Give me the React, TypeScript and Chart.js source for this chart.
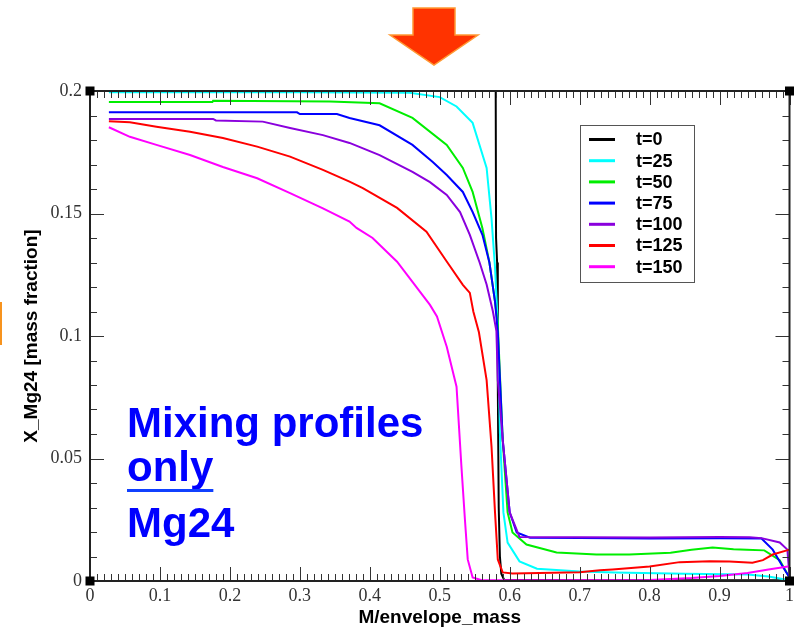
import React, { useEffect, useRef } from 'react';
import { Chart, registerables } from 'chart.js';

Chart.register(...registerables);

// Series (time snapshots of the Mg24 profile)
const seriesLabels = ['t=0', 't=25', 't=50', 't=75', 't=100', 't=125', 't=150'];
const seriesColors = ['#000000', '#00FFFF', '#00EE00', '#0000FF', '#8A00DD', '#FF0000', '#FF00FF'];

const t0X = [0.027, 0.58, 0.5805, 0.582, 0.583, 0.5843, 0.586, 0.588, 0.592, 0.7, 0.85, 1.0];
const t0Y = [0.2, 0.2, 0.14, 0.13, 0.08, 0.03, 0.01, 0.003, 0.0005, 0.0003, 0.0003, 0.0003];

const t25X = [0.027, 0.3, 0.457, 0.5, 0.524, 0.547, 0.567, 0.574, 0.579, 0.583, 0.586, 0.591, 0.597, 0.614, 0.639, 0.7, 0.75, 0.85, 0.94, 0.97, 0.99, 1.0];
const t25Y = [0.1995, 0.1995, 0.1993, 0.1975, 0.1937, 0.187, 0.1686, 0.148, 0.128, 0.1046, 0.0604, 0.028, 0.0157, 0.008, 0.005, 0.0039, 0.0035, 0.003, 0.0027, 0.0018, 0.0008, 0.0004];

const t50X = [0.027, 0.175, 0.176, 0.343, 0.414, 0.461, 0.51, 0.533, 0.547, 0.561, 0.571, 0.579, 0.583, 0.59, 0.597, 0.604, 0.624, 0.667, 0.724, 0.771, 0.83, 0.86, 0.89, 0.92, 0.939, 0.964, 0.986, 1.0];
const t50Y = [0.1955, 0.1955, 0.196, 0.1957, 0.195, 0.189, 0.178, 0.1686, 0.1588, 0.144, 0.13, 0.114, 0.1046, 0.0575, 0.028, 0.0198, 0.0149, 0.0116, 0.0108, 0.0108, 0.0115, 0.0128, 0.0137, 0.013, 0.0128, 0.0125, 0.0085, 0.0014];

const t75X = [0.027, 0.296, 0.3, 0.353, 0.371, 0.414, 0.461, 0.49, 0.51, 0.533, 0.547, 0.561, 0.571, 0.579, 0.583, 0.59, 0.6, 0.61, 0.629, 0.7, 0.8, 0.9, 0.96, 0.976, 0.99, 1.0];
const t75Y = [0.1913, 0.1913, 0.1906, 0.1906, 0.189, 0.186, 0.178, 0.171, 0.1657, 0.1588, 0.1506, 0.1413, 0.13, 0.114, 0.1017, 0.0577, 0.028, 0.0198, 0.0177, 0.0175, 0.0173, 0.0175, 0.0173, 0.0128, 0.006, 0.0014];

const t100X = [0.027, 0.176, 0.18, 0.247, 0.286, 0.333, 0.371, 0.414, 0.461, 0.486, 0.51, 0.529, 0.543, 0.557, 0.567, 0.576, 0.581, 0.583, 0.59, 0.6, 0.614, 0.7, 0.8, 0.9, 0.943, 0.96, 0.986, 0.997, 1.0];
const t100Y = [0.1886, 0.1886, 0.188, 0.1875, 0.1849, 0.182, 0.1788, 0.1738, 0.167, 0.1628, 0.1576, 0.1506, 0.1413, 0.13, 0.121, 0.11, 0.102, 0.082, 0.0577, 0.028, 0.018, 0.0179, 0.0178, 0.018, 0.0179, 0.0175, 0.0157, 0.0128, 0.0018];

const t125X = [0.027, 0.057, 0.095, 0.143, 0.19, 0.239, 0.286, 0.333, 0.371, 0.39, 0.439, 0.481, 0.51, 0.533, 0.543, 0.548, 0.556, 0.567, 0.574, 0.579, 0.583, 0.59, 0.604, 0.7, 0.729, 0.747, 0.8, 0.843, 0.886, 0.914, 0.947, 0.962, 0.976, 1.0];
const t125Y = [0.1877, 0.1872, 0.1854, 0.1834, 0.1808, 0.1773, 0.1732, 0.1678, 0.163, 0.1604, 0.1523, 0.1426, 0.1304, 0.1209, 0.1176, 0.11, 0.1015, 0.082, 0.0549, 0.028, 0.0088, 0.0035, 0.0031, 0.0036, 0.0044, 0.0047, 0.0059, 0.0077, 0.0081, 0.008, 0.0075, 0.0085, 0.0108, 0.0128];

const t150X = [0.027, 0.057, 0.095, 0.143, 0.19, 0.239, 0.286, 0.333, 0.371, 0.381, 0.404, 0.439, 0.461, 0.486, 0.496, 0.51, 0.524, 0.531, 0.536, 0.54, 0.547, 0.56, 0.8, 0.86, 0.9, 0.94, 0.97, 1.0];
const t150Y = [0.1852, 0.1813, 0.178, 0.1739, 0.169, 0.1644, 0.1583, 0.1521, 0.1467, 0.1441, 0.14, 0.1303, 0.1221, 0.1127, 0.108, 0.0956, 0.0793, 0.0467, 0.025, 0.0088, 0.0014, 0.0003, 0.0004, 0.0012, 0.002, 0.0033, 0.0047, 0.006];

const seriesX = [t0X, t25X, t50X, t75X, t100X, t125X, t150X];
const seriesY = [t0Y, t25Y, t50Y, t75Y, t100Y, t125Y, t150Y];

// Axis tick labels
const xTickLabels = ['0', '0.1', '0.2', '0.3', '0.4', '0.5', '0.6', '0.7', '0.8', '0.9', '1'];
const yTickLabels = ['0', '0.05', '0.1', '0.15', '0.2'];

const xTitle = 'M/envelope_mass';
const yTitle = 'X_Mg24 [mass fraction]';
const noteLines = ['Mixing profiles', 'only', 'Mg24'];

const SANS = "'Liberation Sans', Arial, Helvetica, sans-serif";
const SERIF = "'Liberation Serif', 'Times New Roman', serif";

// Inward ticks, frame, corner handles, boxed legend and the slide annotations
const decorPlugin = {
  id: 'decor',
  afterDraw(chart: any) {
    const ctx = chart.ctx as CanvasRenderingContext2D;
    const ca = chart.chartArea;
    const xs = chart.scales.x;
    const ys = chart.scales.y;
    ctx.save();

    // ticks
    ctx.strokeStyle = '#333';
    ctx.lineWidth = 1;
    ctx.beginPath();
    for (let i = 0; i <= 100; i++) {
      const v = i / 100;
      const px = Math.round(xs.getPixelForValue(v)) + 0.5;
      const len = i % 10 === 0 ? 14 : 7;
      ctx.moveTo(px, ca.bottom);
      ctx.lineTo(px, ca.bottom - len);
      ctx.moveTo(px, ca.top);
      ctx.lineTo(px, ca.top + len);
    }
    for (let i = 0; i <= 20; i++) {
      const v = i / 100;
      const py = Math.round(ys.getPixelForValue(v)) + 0.5;
      const len = i % 5 === 0 ? 14 : 7;
      ctx.moveTo(ca.left, py);
      ctx.lineTo(ca.left + len, py);
      ctx.moveTo(ca.right, py);
      ctx.lineTo(ca.right - len, py);
    }
    ctx.stroke();

    // frame
    ctx.strokeStyle = '#222';
    ctx.lineWidth = 2;
    ctx.strokeRect(ca.left, ca.top, ca.right - ca.left, ca.bottom - ca.top);

    // corner handles
    ctx.fillStyle = '#000';
    const s = 9;
    [[ca.left, ca.top], [ca.right, ca.top], [ca.left, ca.bottom], [ca.right, ca.bottom]].forEach(([cx, cy]) => {
      ctx.fillRect(cx - s / 2, cy - s / 2, s, s);
    });

    // legend box
    const lx = ca.left + 490;
    const ly = ca.top + 34;
    const lw = 114;
    const lh = 157;
    ctx.fillStyle = '#fff';
    ctx.fillRect(lx, ly, lw, lh);
    ctx.strokeStyle = '#555';
    ctx.lineWidth = 1;
    ctx.strokeRect(lx + 0.5, ly + 0.5, lw, lh);
    ctx.font = `bold 18px ${SANS}`;
    ctx.textBaseline = 'middle';
    ctx.textAlign = 'left';
    chart.data.datasets.forEach((ds: any, i: number) => {
      const ry = ly + 14.5 + i * 21.2;
      ctx.strokeStyle = ds.borderColor;
      ctx.lineWidth = 3;
      ctx.beginPath();
      ctx.moveTo(lx + 9, ry);
      ctx.lineTo(lx + 35, ry);
      ctx.stroke();
      ctx.fillStyle = '#000';
      ctx.fillText(ds.label, lx + 56, ry + 1);
    });

    // annotation text
    ctx.fillStyle = '#0000FF';
    ctx.font = `bold 42px ${SANS}`;
    ctx.textBaseline = 'alphabetic';
    const tx = 127;
    const baselines = [437, 481, 537];
    noteLines.forEach((line, i) => ctx.fillText(line, tx, baselines[i]));
    const w = ctx.measureText(noteLines[1]).width;
    ctx.fillStyle = '#1040FF';
    ctx.fillRect(tx, 489, w, 3);

    // arrow
    ctx.beginPath();
    ctx.moveTo(413, 8);
    ctx.lineTo(455, 8);
    ctx.lineTo(455, 35);
    ctx.lineTo(478, 35);
    ctx.lineTo(434, 65);
    ctx.lineTo(390, 35);
    ctx.lineTo(413, 35);
    ctx.closePath();
    ctx.fillStyle = '#FF3300';
    ctx.fill();
    ctx.strokeStyle = '#FF9933';
    ctx.lineWidth = 1.5;
    ctx.stroke();

    // small orange mark at the left edge
    ctx.fillStyle = '#F7931E';
    ctx.fillRect(0, 302, 2, 43);

    ctx.restore();
  },
};

export default function App() {
  const canvasRef = useRef<HTMLCanvasElement | null>(null);

  useEffect(() => {
    if (!canvasRef.current) return;
    const n = seriesLabels.length;
    const datasets = seriesLabels.map((label, i) => ({
      label,
      data: seriesX[i].map((x, j) => ({ x, y: seriesY[i][j] })),
      borderColor: seriesColors[i],
      backgroundColor: seriesColors[i],
      borderWidth: 2,
      pointRadius: 0,
      showLine: true,
      tension: 0,
      fill: false,
      order: n - i,
    }));

    const chart = new Chart(canvasRef.current, {
      type: 'scatter',
      data: { datasets },
      options: {
        responsive: false,
        animation: false,
        layout: { padding: { left: 0, top: 91, right: 8, bottom: 0 } },
        plugins: {
          legend: { display: false },
          tooltip: { enabled: false },
        },
        scales: {
          x: {
            type: 'linear',
            min: 0,
            max: 1,
            grid: { display: false, drawTicks: false },
            border: { display: false },
            ticks: {
              stepSize: 0.1,
              autoSkip: false,
              maxRotation: 0,
              padding: 4,
              color: '#333',
              font: { family: SERIF, size: 18 },
              callback: (_v: any, idx: number) => xTickLabels[idx],
            },
            title: {
              display: true,
              text: xTitle,
              color: '#000',
              font: { family: SANS, size: 19, weight: 'bold', lineHeight: 1 },
              padding: { top: 0, bottom: 0 },
            },
            afterFit: (scale: any) => {
              scale.height = 46;
            },
          },
          y: {
            type: 'linear',
            min: 0,
            max: 0.2,
            grid: { display: false, drawTicks: false },
            border: { display: false },
            ticks: {
              stepSize: 0.05,
              autoSkip: false,
              padding: 8,
              color: '#333',
              font: { family: SERIF, size: 18 },
              callback: (_v: any, idx: number) => yTickLabels[idx],
            },
            title: {
              display: true,
              text: yTitle,
              color: '#000',
              font: { family: SANS, size: 19, weight: 'bold', lineHeight: 1 },
              padding: { top: 22, bottom: 0 },
            },
            afterFit: (scale: any) => {
              scale.width = 90;
            },
          },
        },
      },
      plugins: [decorPlugin],
    });

    return () => chart.destroy();
  }, []);

  return (
    <div style={{ position: 'fixed', left: 0, top: 0, width: 798, height: 627, background: '#fff' }}>
      <canvas ref={canvasRef} width={798} height={627} style={{ display: 'block' }} />
    </div>
  );
}
